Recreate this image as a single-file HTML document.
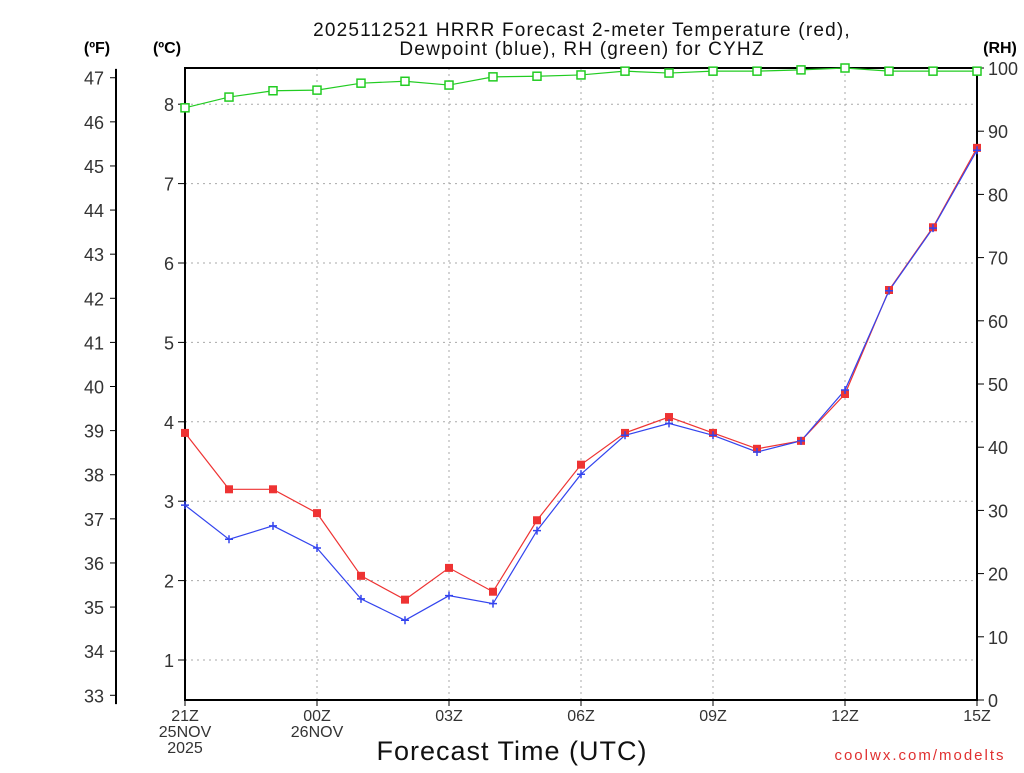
<!DOCTYPE html>
<html><head><meta charset="utf-8"><style>
body{margin:0;background:#fff;}
svg text{font-family:"Liberation Sans",sans-serif;fill:#333;}
</style></head><body>
<svg id="chart" width="1024" height="768" xmlns="http://www.w3.org/2000/svg">
<g id="grid"></g>
<g id="axes"></g>
<g id="series"></g>
<text x="582" y="36" font-size="19" letter-spacing="1.2" text-anchor="middle" style="fill:#111">2025112521 HRRR Forecast 2-meter Temperature (red),</text>
<text x="582" y="55" font-size="19" letter-spacing="1.2" text-anchor="middle" style="fill:#111">Dewpoint (blue), RH (green) for CYHZ</text>
<text x="97" y="53" font-size="16" font-weight="bold" text-anchor="middle" style="fill:#000">(ºF)</text>
<text x="167" y="53" font-size="16" font-weight="bold" text-anchor="middle" style="fill:#000">(ºC)</text>
<text x="1000" y="53" font-size="16" font-weight="bold" text-anchor="middle" style="fill:#000">(RH)</text>
<text x="512" y="760" font-size="27" text-anchor="middle" letter-spacing="1" style="fill:#111">Forecast Time (UTC)</text>
<text x="920" y="760" font-size="15" text-anchor="middle" style="fill:#e03030" letter-spacing="2">coolwx.com/modelts</text>
</svg>
<script>
const hours=[0,1,2,3,4,5,6,7,8,9,10,11,12,13,14,15,16,17,18];
const tempC=[3.86,3.15,3.15,2.85,2.06,1.76,2.16,1.86,2.76,3.46,3.86,4.06,3.86,3.66,3.76,4.35,5.66,6.45,7.45];
const dewC=[2.95,2.52,2.69,2.41,1.77,1.50,1.81,1.71,2.63,3.34,3.83,3.98,3.83,3.62,3.76,4.40,5.65,6.44,7.42];
const rh=[93.7,95.4,96.4,96.5,97.6,97.9,97.3,98.6,98.7,98.9,99.5,99.2,99.5,99.5,99.7,100,99.5,99.5,99.5];
const cTicks=[1,2,3,4,5,6,7,8];
const fTicks=[33,34,35,36,37,38,39,40,41,42,43,44,45,46,47];
const rhTicks=[0,10,20,30,40,50,60,70,80,90,100];
const xTickHours=[0,3,6,9,12,15,18];
const xTickLabels=[["21Z","25NOV","2025"],["00Z","26NOV"],["03Z"],["06Z"],["09Z"],["12Z"],["15Z"]];
const L=185,R=977,T=68,B=700;
const NS="http://www.w3.org/2000/svg";
const x=h=>L+h*(R-L)/18;
const yC=c=>739.4-c*79.4;
const yF=f=>yC((f-32)/1.8);
const yR=r=>B-r*(B-T)/100;
function mk(p,tag,a){const e=document.createElementNS(NS,tag);for(const k in a)e.setAttribute(k,a[k]);document.getElementById(p).appendChild(e);return e;}
cTicks.forEach(c=>{const e=mk('grid','line',{x1:L,x2:R,y1:yC(c),y2:yC(c),stroke:'#aaa','stroke-dasharray':'2,4'});

});
xTickHours.slice(1,-1).forEach(h=>{const e=mk('grid','line',{x1:x(h),x2:x(h),y1:T,y2:B,stroke:'#aaa','stroke-dasharray':'2,4'});

});
const fr=mk('axes','rect',{x:L,y:T,width:R-L,height:B-T,fill:'none',stroke:'#000','stroke-width':2});


const fl=mk('axes','line',{x1:116,x2:116,y1:yF(47.2),y2:yF(32.8),stroke:'#000','stroke-width':2});


fTicks.forEach(f=>{mk('axes','line',{x1:110,x2:116,y1:yF(f),y2:yF(f),stroke:'#000'});
const t=mk('axes','text',{x:104,y:yF(f)+7,'font-size':18,'text-anchor':'end'});t.textContent=f;

});
cTicks.forEach(c=>{mk('axes','line',{x1:178,x2:185,y1:yC(c),y2:yC(c),stroke:'#000'});
const t=mk('axes','text',{x:174,y:yC(c)+7,'font-size':18,'text-anchor':'end'});t.textContent=c;

});
rhTicks.forEach(r=>{mk('axes','line',{x1:977,x2:984,y1:yR(r),y2:yR(r),stroke:'#000'});
const t=mk('axes','text',{x:988,y:yR(r)+7,'font-size':18}); t.textContent=r;

});
xTickHours.forEach((h,i)=>{mk('axes','line',{x1:x(h),x2:x(h),y1:B,y2:B+6,stroke:'#000'});
xTickLabels[i].forEach((s,j)=>{const t=mk('axes','text',{x:x(h),y:B+21+j*16,'font-size':16,'text-anchor':'middle'});t.textContent=s;

});});
function line(vals,yf,col,name){const pts=vals.map((v,i)=>x(hours[i])+','+yf(v)).join(' ');
const e=mk('series','polyline',{points:pts,fill:'none',stroke:col,'stroke-width':1.2});

}
line(rh,yR,'#22cc22','rh-line');
line(tempC,yC,'#ee3333','temperature-line');
line(dewC,yC,'#3344ee','dewpoint-line');
rh.forEach((v,i)=>{const e=mk('series','rect',{x:x(hours[i])-4,y:yR(v)-4,width:8,height:8,fill:'#fff',stroke:'#22cc22','stroke-width':1.5});

});
tempC.forEach((v,i)=>{const e=mk('series','rect',{x:x(hours[i])-4,y:yC(v)-4,width:8,height:8,fill:'#ee3333'});

});
dewC.forEach((v,i)=>{const e=mk('series','path',{d:`M${x(hours[i])-4},${yC(v)}h8M${x(hours[i])},${yC(v)-4}v8`,stroke:'#3344ee','stroke-width':1.5});

});
</script>
</body></html>
